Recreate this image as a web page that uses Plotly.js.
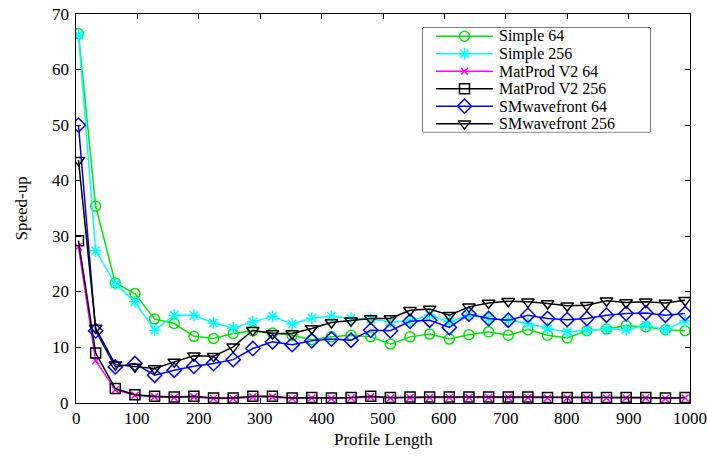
<!DOCTYPE html>
<html>
<head>
<meta charset="utf-8">
<script src="https://cdn.plot.ly/plotly-3.0.1.min.js"></script>
<style>html,body{margin:0;padding:0;background:#fff;}#chart{width:707px;height:459px;}</style>
</head>
<body>
<div id="chart"></div>
<script>
const profileLength = [4, 32, 64, 96, 128, 160, 192, 224, 256, 288, 320, 352, 384, 416, 448, 480,
  512, 544, 576, 608, 640, 672, 704, 736, 768, 800, 832, 864, 896, 928, 960, 992];

const simple64 = [66.5, 35.4, 21.6, 19.7, 15.1, 14.3, 12.0, 11.6, 12.5, 13.0, 12.6, 12.2, 11.4, 11.9, 12.2, 11.9,
  10.6, 11.9, 12.4, 11.5, 12.3, 12.8, 12.2, 13.2, 12.2, 11.7, 13.0, 13.3, 13.9, 13.7, 13.2, 13.0];
const simple256 = [66.2, 27.4, 21.4, 18.2, 13.1, 15.8, 15.8, 14.4, 13.5, 14.6, 15.6, 14.2, 15.3, 15.6, 15.2, 15.1,
  14.6, 14.7, 15.85, 14.6, 15.85, 15.2, 14.9, 14.3, 13.4, 12.8, 13.1, 13.3, 13.2, 14.0, 13.2, 14.8];
const matProd64 = [28.1, 7.6, 2.4, 1.4, 1.1, 1.0, 1.1, 0.8, 0.8, 1.1, 1.1, 0.8, 0.9, 0.8, 0.9, 1.1,
  0.9, 1.0, 1.0, 1.0, 1.0, 1.0, 1.0, 1.0, 0.9, 0.9, 0.9, 0.9, 0.9, 0.9, 0.8, 0.9];
const matProd256 = [29.2, 9.0, 2.6, 1.5, 1.2, 1.1, 1.2, 0.9, 0.9, 1.2, 1.2, 0.9, 1.0, 0.9, 1.0, 1.2,
  1.0, 1.1, 1.1, 1.1, 1.1, 1.1, 1.1, 1.1, 1.0, 1.0, 1.0, 1.0, 1.0, 1.0, 0.9, 1.0];
const smWave64 = [50.0, 13.0, 6.5, 7.1, 5.0, 5.9, 6.6, 7.1, 7.8, 9.8, 11.0, 10.5, 11.2, 11.5, 11.3, 13.1,
  13.0, 14.7, 14.9, 13.6, 16.0, 15.2, 14.9, 15.8, 15.2, 15.0, 15.2, 15.8, 16.1, 16.2, 15.8, 16.1];
const smWave256 = [43.7, 13.5, 6.9, 6.5, 6.2, 7.4, 8.5, 8.4, 10.1, 13.1, 12.5, 12.5, 13.4, 14.5, 14.8, 15.2,
  15.2, 16.7, 16.9, 15.8, 17.3, 18.0, 18.3, 18.2, 17.9, 17.5, 17.6, 18.4, 18.1, 18.2, 18.0, 18.5];

const seriesNames = ["Simple 64", "Simple 256", "MatProd V2 64", "MatProd V2 256", "SMwavefront 64", "SMwavefront 256"];
const seriesData = [simple64, simple256, matProd64, matProd256, smWave64, smWave256];
const seriesColors = ["#00e600", "#00ffff", "#ff00ff", "#000000", "#0000ff", "#000000"];
const seriesSymbols = ["circle-open", "asterisk-open", "x-thin-open", "square-open", "diamond-open", "triangle-down-open"];
const seriesSizes = [10, 10, 7, 10, 11, 11];

const xTicks = [0, 100, 200, 300, 400, 500, 600, 700, 800, 900, 1000];
const yTicks = [0, 10, 20, 30, 40, 50, 60, 70];
const xTitle = "Profile Length";
const yTitle = "Speed-up";

function mkFont(size) { return {family: '"Liberation Serif", serif', size: size, color: "#000000"}; }

const traces = seriesNames.map((name, i) => ({
  x: profileLength,
  y: seriesData[i],
  name: name,
  type: "scatter",
  mode: "lines+markers",
  showlegend: false,
  line: {color: seriesColors[i], width: 1.5},
  marker: {symbol: seriesSymbols[i], size: seriesSizes[i], color: seriesColors[i],
           line: {color: seriesColors[i], width: 1.5}}
}));

const annotations = [];

// Legend drawn on an overlay axis (units: 0..1 across, rows 0..5 down)
seriesNames.forEach((name, i) => {
  traces.push({
    x: [0.057, 0.308], y: [i, i], xaxis: "x2", yaxis: "y2",
    type: "scatter", mode: "lines", showlegend: false, hoverinfo: "skip",
    line: {color: seriesColors[i], width: 1.5}
  });
  traces.push({
    x: [0.183], y: [i], xaxis: "x2", yaxis: "y2",
    type: "scatter", mode: "markers", showlegend: false, hoverinfo: "skip",
    marker: {symbol: seriesSymbols[i], size: seriesSizes[i], color: seriesColors[i],
             line: {color: seriesColors[i], width: 1.5}}
  });
  annotations.push({
    xref: "x2", yref: "y2", x: 0.33, y: i, text: name, showarrow: false,
    xanchor: "left", yanchor: "middle", borderpad: 0, font: mkFont(16)
  });
});

// Tick labels placed through the axis scales
xTicks.forEach(v => annotations.push({
  xref: "x", yref: "paper", x: v, y: 0, text: String(v), showarrow: false,
  xanchor: "center", yanchor: "top", yshift: -4, font: mkFont(17)
}));
yTicks.forEach(v => annotations.push({
  xref: "paper", yref: "y", x: 0, y: v, text: String(v), showarrow: false,
  xanchor: "right", yanchor: "middle", xshift: -5, font: mkFont(17)
}));
// Axis titles
annotations.push({xref: "paper", yref: "paper", x: 0.5, y: -0.095, text: xTitle, showarrow: false,
  xanchor: "center", yanchor: "middle", font: mkFont(17)});
annotations.push({xref: "paper", yref: "paper", x: -0.088, y: 0.5, text: yTitle, showarrow: false,
  xanchor: "center", yanchor: "middle", textangle: -90, font: mkFont(17)});

const layout = {
  width: 707, height: 459,
  margin: {l: 76, r: 17, t: 14, b: 56},
  paper_bgcolor: "#fff", plot_bgcolor: "#fff",
  showlegend: false,
  xaxis: {
    range: [0, 1000], tickvals: xTicks, showticklabels: false,
    ticks: "inside", ticklen: 5, tickcolor: "#000", mirror: "ticks",
    showline: true, linecolor: "#000", linewidth: 1, showgrid: false, zeroline: false
  },
  yaxis: {
    range: [0, 70], tickvals: yTicks, showticklabels: false,
    ticks: "inside", ticklen: 5, tickcolor: "#000", mirror: "ticks",
    showline: true, linecolor: "#000", linewidth: 1, showgrid: false, zeroline: false
  },
  xaxis2: {domain: [0.565, 0.935], range: [0, 1], anchor: "y2", visible: false, fixedrange: true},
  yaxis2: {domain: [0.697, 0.964], range: [5.47, -0.47], anchor: "x2", visible: false, fixedrange: true},
  shapes: [{
    type: "rect", xref: "x2 domain", yref: "y2 domain", x0: 0, x1: 1, y0: 0, y1: 1,
    line: {color: "#000", width: 1}, fillcolor: "#fff", layer: "below"
  }],
  annotations: annotations
};

Plotly.newPlot("chart", traces, layout, {displayModeBar: false, staticPlot: true});
</script>
</body>
</html>
